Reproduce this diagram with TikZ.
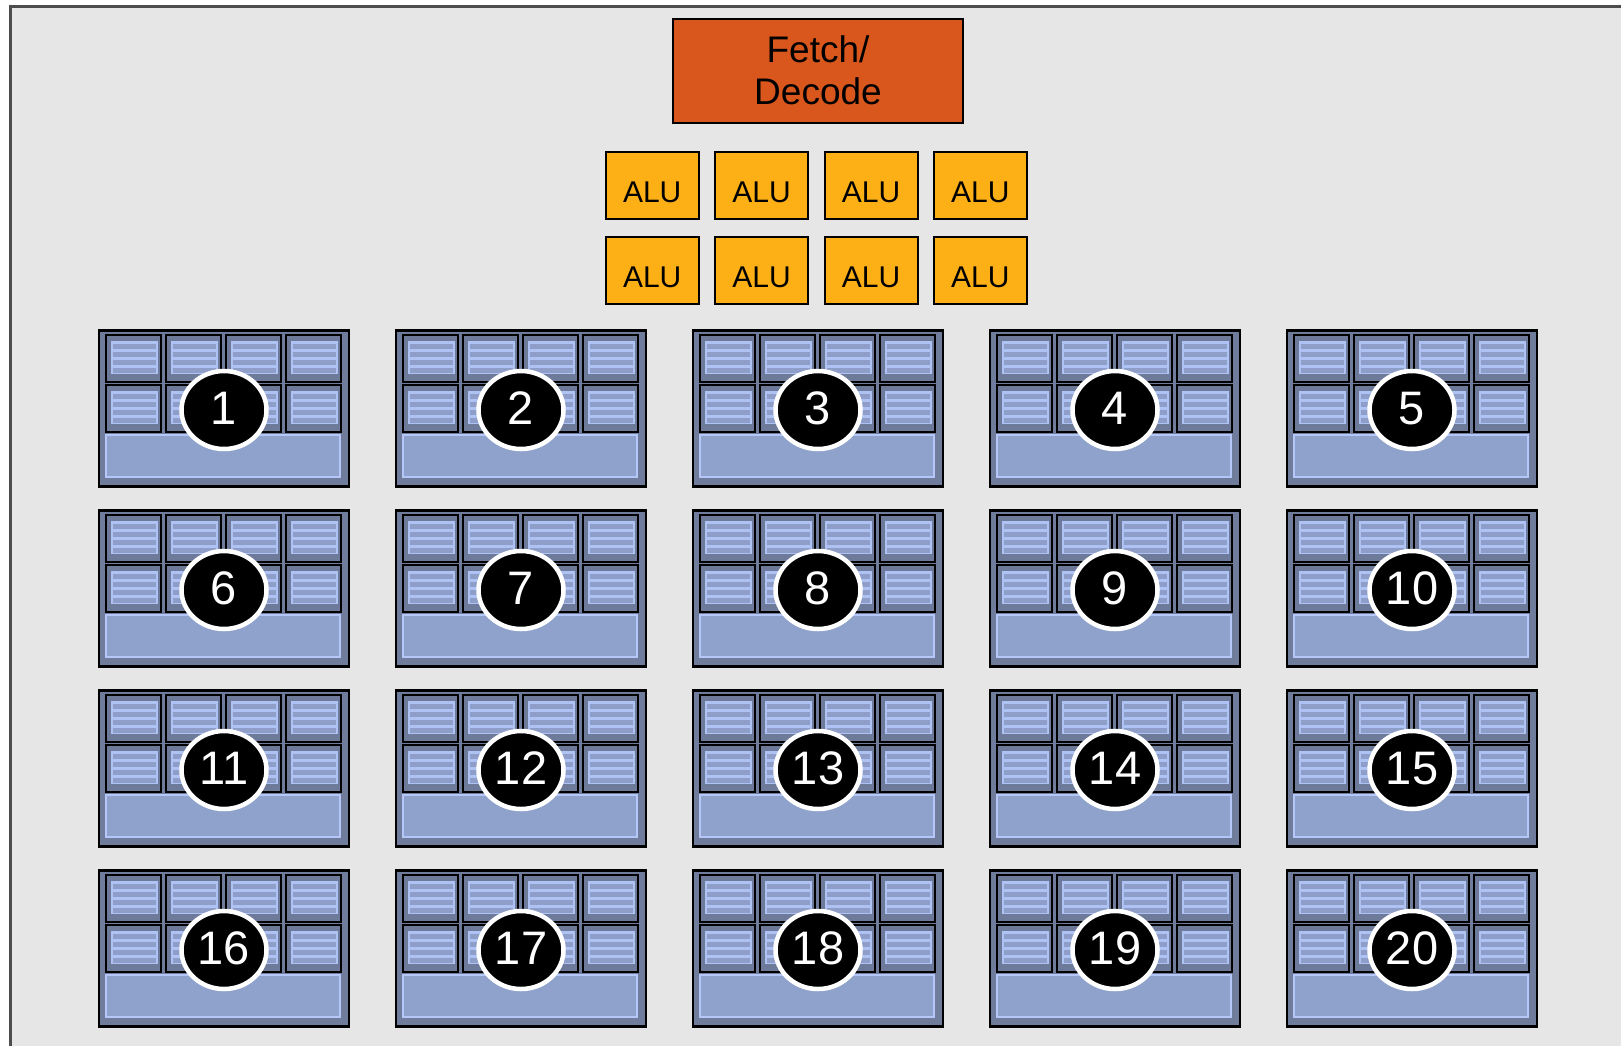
\documentclass[tikz,border=0pt]{standalone}
\usepackage{fontspec}
\setmainfont{Liberation Sans}
\usetikzlibrary{shapes.geometric}
\definecolor{bggray}{HTML}{E6E6E6}
\definecolor{framegray}{HTML}{4D4D4D}
\definecolor{fetchorange}{HTML}{D9561C}
\definecolor{aluyellow}{HTML}{FDB016}
\definecolor{coreblue}{HTML}{6F7C9C}
\definecolor{cellblue}{HTML}{6D7A99}
\definecolor{ctxlight}{HTML}{AFC2F4}
\definecolor{ctxstripe}{HTML}{8E9EC8}
\definecolor{barblue}{HTML}{8FA2CC}
\definecolor{barline}{HTML}{B4C7F8}
\begin{document}
\begin{tikzpicture}[x=1pt,y=-1pt,
    fetch/.style={draw=black,line width=2pt,fill=fetchorange,minimum width=290pt,minimum height=104pt,align=center,font=\fontsize{37}{42}\selectfont},
    alu/.style={draw=black,line width=2pt,fill=aluyellow,minimum width=93pt,minimum height=67pt,inner sep=0pt,text height=33pt,text depth=0pt,font=\fontsize{30}{36}\selectfont},
    core/.style={draw=black,line width=2.5pt,fill=coreblue,minimum width=250pt,minimum height=156pt,inner sep=0pt},
    cell/.style={draw=black,line width=1.8pt,fill=cellblue},
    ctx/.style={fill=ctxlight},
    stripe/.style={fill=ctxstripe},
    bar/.style={draw=barline,line width=2pt,fill=barblue},
    num/.style={ellipse,draw=white,line width=4.5pt,fill=black,text=white,minimum width=85pt,minimum height=78pt,inner sep=0pt,text height=34pt,text depth=6pt,font=\fontsize{47}{47}\selectfont}]
    \useasboundingbox (0,0) rectangle (1621,1045);
    \draw[line width=3pt,draw=framegray,fill=bggray] (10,6) rectangle (1660,1080);
    % instruction stream and ALUs
    \node[fetch] (fetch) at (818,70.5) {Fetch/\\Decode};
    \foreach \i in {0,...,3}{
        \node[alu] (alua\i) at (652.2+109.4*\i,185.5) {ALU};
        \node[alu] (alub\i) at (652.2+109.4*\i,270.5) {ALU};
    }
    % execution contexts
    \foreach \r in {0,...,3}
    \foreach \c in {0,...,4}{
        \pgfmathtruncatemacro\n{5*\r+\c+1}
        \node[core] (core\n) at (224+297*\c,408.5+180*\r) {};
        \begin{scope}[shift={(core\n.north west)}]
            \foreach \k in {0,...,3}
            \foreach \j in {0,1}{
                \draw[cell] (8+60*\k,6+50*\j) rectangle ++(55,47);
                \fill[ctx] (13+60*\k,12+50*\j) rectangle ++(47,33);
                \foreach \s in {0,...,3}
                    \fill[stripe] (15+60*\k,14.5+50*\j+8*\s) rectangle ++(43,5.5);
            }
            \draw[bar] (8,106) rectangle (242,148);
        \end{scope}
        \node[num] (num\n) at ([yshift=-1.5pt]core\n.center) {\n};
    }
\end{tikzpicture}
\end{document}
